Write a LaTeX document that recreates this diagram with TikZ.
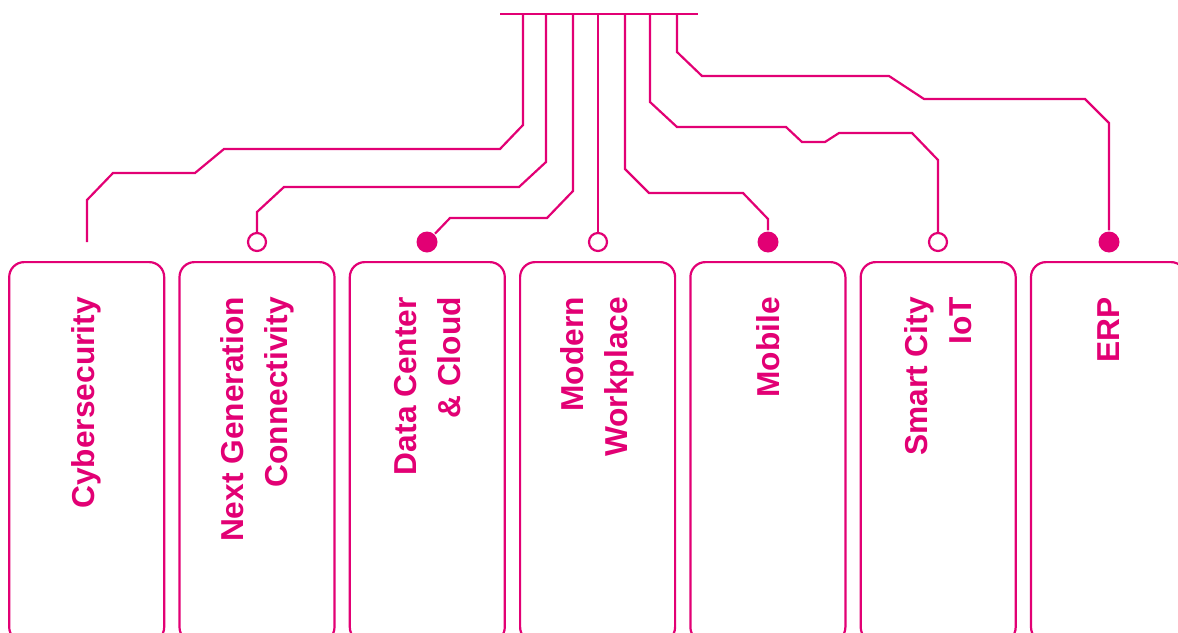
\documentclass[tikz,border=0pt]{standalone}
\usepackage{fontspec}
\setmainfont{Liberation Sans}
\usetikzlibrary{positioning}
\definecolor{tmagenta}{HTML}{E20074}

\begin{document}
\begin{tikzpicture}[x=1pt,y=-1pt,line width=2.2pt,color=tmagenta,
	box/.style={draw,rounded corners=15pt,minimum width=155pt,minimum height=380pt,anchor=north},
	boxtext/.style={font=\bfseries\fontsize{31.7}{44}\selectfont,rotate=90,anchor=east,align=right,inner sep=0pt},
	opendot/.style={circle,draw,fill=white,inner sep=0pt,minimum size=18pt},
	fulldot/.style={circle,fill,inner sep=0pt,minimum size=21pt}]
			\useasboundingbox (0,0) rectangle (1178,632);
			\clip (0,0) rectangle (1178,632);

			\foreach \i in {1,...,7}
			\node[box] (box\i) at ({86.7+170.3*(\i-1)},261) {};

			\node[boxtext] at ([yshift=-35pt]box1.north) {Cybersecurity};
			\node[boxtext] at ([yshift=-35pt]box2.north) {Next Generation\\Connectivity};
			\node[boxtext] at ([yshift=-35pt]box3.north) {Data Center\\\& Cloud};
			\node[boxtext] at ([yshift=-35pt]box4.north) {Modern\\Workplace};
			\node[boxtext] at ([yshift=-35pt]box5.north) {Mobile};
			\node[boxtext] at ([yshift=-35pt]box6.north) {Smart City\\IoT};
			\node[boxtext] at ([yshift=-35pt]box7.north) {ERP};

			% bus on top
			\coordinate (busl) at (500,14);
			\coordinate (busr) at (698,14);
			\draw (busl) -- (busr);
			\foreach \n/\x in {1/523, 2/546, 3/573, 4/598, 5/625, 6/650, 7/677}
			\coordinate (s\n) at (\x,14);

			\coordinate (e1) at (87,242);
			\node[opendot] (d2) at (257,242) {};
			\node[fulldot] (d3) at (427,242) {};
			\node[opendot] (d4) at (598,242) {};
			\node[fulldot] (d5) at (768,242) {};
			\node[opendot] (d6) at (938,242) {};
			\node[fulldot] (d7) at (1109,242) {};

			\draw (s1) -- (523,125) -- (500,149) -- (224,149) -- (195,173) -- (113,173) -- (87,200) -- (e1);
			\draw (s2) -- (546,162) -- (519,187) -- (284,187) -- (257,212) -- (d2);
			\draw (s3) -- (573,191) -- (547,218) -- (450,218) -- (d3);
			\draw (s4) -- (d4);
			\draw (s5) -- (625,169) -- (649,193) -- (743,193) -- (768,219) -- (d5);
			\draw (s6) -- (650,102) -- (677,127) -- (786,127) -- (802,142) -- (825,142) -- (839,133) -- (912,133) -- (938,160) -- (d6);
			\draw (s7) -- (677,52) -- (702,76) -- (889,76) -- (924,99) -- (1085,99) -- (1109,123) -- (d7);
		\end{tikzpicture}
\end{document}
